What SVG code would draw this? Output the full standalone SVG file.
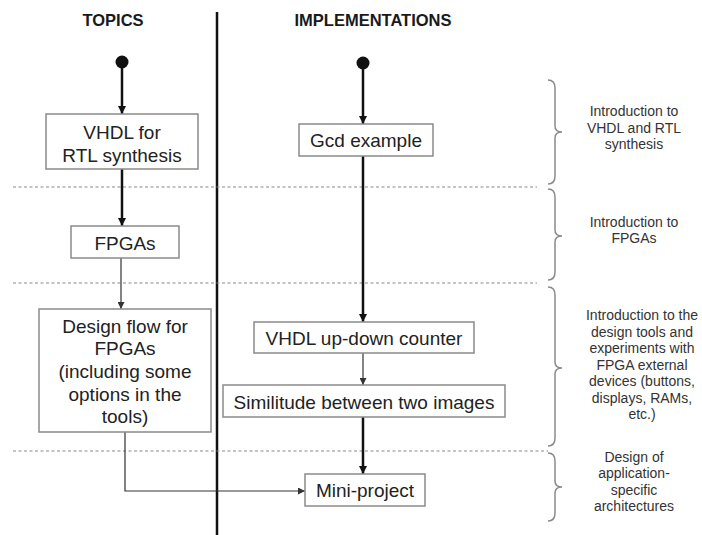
<svg xmlns="http://www.w3.org/2000/svg" width="702" height="535" viewBox="0 0 702 535">
<style>
  .hdr { font-family: "Liberation Sans", Arial, sans-serif; font-weight: bold; font-size: 16.5px; fill: #1a1a1a; text-anchor: middle; }
  .box { fill: #fff; stroke: #8a8a8a; stroke-width: 1.5; }
  .lbl { font-family: "Liberation Sans", Arial, sans-serif; font-size: 19px; fill: #222; text-anchor: middle; }
  .note { font-family: "Liberation Sans", Arial, sans-serif; font-size: 14px; fill: #333; text-anchor: middle; }
  .dash { stroke: #8a8a8a; stroke-width: 1.2; stroke-dasharray: 3 2.5; fill: none; }
  .brace { stroke: #8a8a8a; stroke-width: 1.5; fill: none; }
  .thick { stroke: #111; stroke-width: 2.5; fill: none; }
  .thin { stroke: #333; stroke-width: 1.2; fill: none; }
</style>
<defs>
  <marker id="ah" viewBox="0 0 10 10" refX="10" refY="5" markerWidth="8" markerHeight="8" markerUnits="userSpaceOnUse" orient="auto">
    <path d="M0,0 L10,5 L0,10 z" fill="#111"/>
  </marker>
  <marker id="ahs" viewBox="0 0 10 10" refX="10" refY="5" markerWidth="7" markerHeight="7" markerUnits="userSpaceOnUse" orient="auto">
    <path d="M0,0 L10,5 L0,10 z" fill="#333"/>
  </marker>
</defs>
<rect x="0" y="0" width="702" height="535" fill="#fff"/>

<!-- headers and divider -->
<g id="headers">
  <text class="hdr" x="113" y="26">TOPICS</text>
  <text class="hdr" x="373" y="26">IMPLEMENTATIONS</text>
  <line x1="217" y1="12" x2="217" y2="535" stroke="#111" stroke-width="2.5"/>
</g>

<!-- dashed separators -->
<g id="separators">
  <line class="dash" x1="13" y1="187" x2="537" y2="187"/>
  <line class="dash" x1="13" y1="283" x2="537" y2="283"/>
  <line class="dash" x1="13" y1="451" x2="548" y2="451"/>
</g>

<!-- connectors -->
<g id="connectors">
  <circle cx="122" cy="62" r="6.5" fill="#111"/>
  <line class="thick" x1="122" y1="62" x2="122" y2="114" marker-end="url(#ah)" stroke-width="2"/>
  <line class="thick" x1="122" y1="169" x2="122" y2="226" marker-end="url(#ah)"/>
  <line class="thin" x1="121" y1="258" x2="121" y2="309" marker-end="url(#ahs)"/>
  <polyline class="thin" points="125,432 125,491 305,491" marker-end="url(#ahs)"/>
  <circle cx="363" cy="63" r="6.5" fill="#111"/>
  <line class="thick" x1="363" y1="63" x2="363" y2="124" marker-end="url(#ah)" stroke-width="2"/>
  <line class="thick" x1="363" y1="156" x2="363" y2="322" marker-end="url(#ah)"/>
  <line class="thin" x1="363" y1="353" x2="363" y2="385" marker-end="url(#ahs)"/>
  <line class="thick" x1="363" y1="417" x2="363" y2="474" marker-end="url(#ah)"/>
</g>

<!-- topic nodes -->
<g id="vhdl-rtl">
  <rect class="box" x="46" y="114" width="152" height="55"/>
  <text class="lbl" x="122" y="139">VHDL for</text>
  <text class="lbl" x="122" y="162">RTL synthesis</text>
</g>
<g id="fpgas">
  <rect class="box" x="71" y="226" width="108" height="32"/>
  <text class="lbl" x="125" y="250">FPGAs</text>
</g>
<g id="design-flow">
  <rect class="box" x="39" y="309" width="172" height="123"/>
  <text class="lbl" x="125" y="333">Design flow for</text>
  <text class="lbl" x="125" y="355">FPGAs</text>
  <text class="lbl" x="125" y="378">(including some</text>
  <text class="lbl" x="125" y="401">options in the</text>
  <text class="lbl" x="125" y="423">tools)</text>
</g>

<!-- implementation nodes -->
<g id="gcd">
  <rect class="box" x="299" y="124" width="134" height="32"/>
  <text class="lbl" x="366" y="147">Gcd example</text>
</g>
<g id="updown">
  <rect class="box" x="254" y="322" width="220" height="31"/>
  <text class="lbl" x="364" y="345">VHDL up-down counter</text>
</g>
<g id="similitude">
  <rect class="box" x="223" y="385" width="282" height="32"/>
  <text class="lbl" x="364" y="409">Similitude between two images</text>
</g>
<g id="mini-project">
  <rect class="box" x="305" y="474" width="120" height="32"/>
  <text class="lbl" x="365" y="497">Mini-project</text>
</g>

<!-- braces and notes -->
<g id="note-1">
  <path class="brace" d="M548,80 Q555,80 555,88 L555,126 Q555,132 562,132 Q555,132 555,138 L555,176 Q555,184 548,184"/>
  <text class="note" x="634" y="116">Introduction to</text>
  <text class="note" x="634" y="133">VHDL and RTL</text>
  <text class="note" x="634" y="149">synthesis</text>
</g>
<g id="note-2">
  <path class="brace" d="M548,189 Q555,189 555,197 L555,230 Q555,236 562,236 Q555,236 555,242 L555,272 Q555,280 548,280"/>
  <text class="note" x="634" y="227">Introduction to</text>
  <text class="note" x="634" y="243">FPGAs</text>
</g>
<g id="note-3">
  <path class="brace" d="M548,287 Q555,287 555,295 L555,362 Q555,368 562,368 Q555,368 555,374 L555,438 Q555,446 548,446"/>
  <text class="note" x="642" y="320">Introduction to the</text>
  <text class="note" x="642" y="336.5">design tools and</text>
  <text class="note" x="642" y="353">experiments with</text>
  <text class="note" x="642" y="369.5">FPGA external</text>
  <text class="note" x="642" y="386">devices (buttons,</text>
  <text class="note" x="642" y="402.5">displays, RAMs,</text>
  <text class="note" x="642" y="419">etc.)</text>
</g>
<g id="note-4">
  <path class="brace" d="M548,453 Q555,453 555,461 L555,481 Q555,487 562,487 Q555,487 555,493 L555,513 Q555,521 548,521"/>
  <text class="note" x="634" y="462">Design of</text>
  <text class="note" x="634" y="478">application-</text>
  <text class="note" x="634" y="494.5">specific</text>
  <text class="note" x="634" y="511">architectures</text>
</g>
</svg>
